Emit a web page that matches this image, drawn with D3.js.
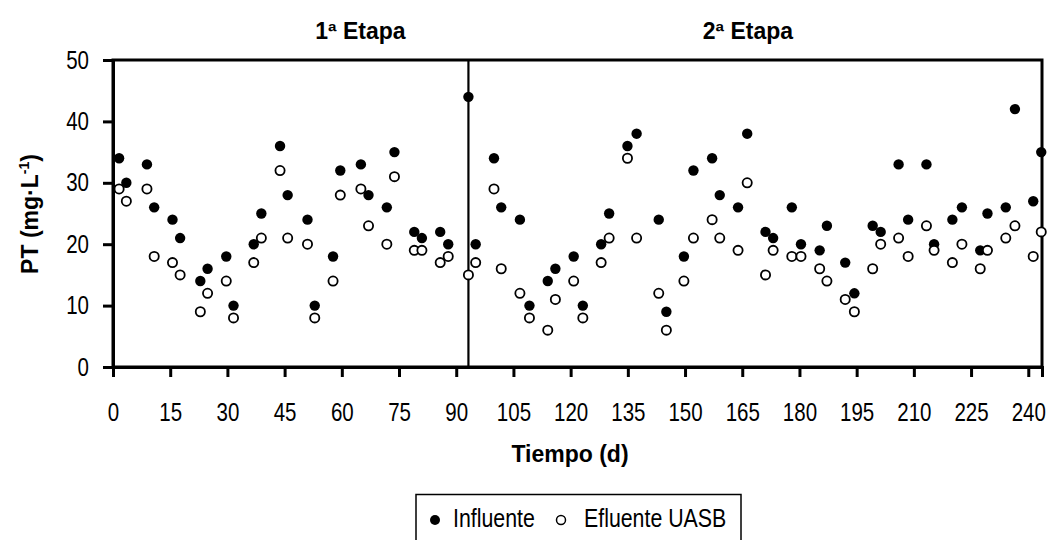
<!DOCTYPE html>
<html>
<head>
<meta charset="utf-8">
<script src="https://cdn.jsdelivr.net/npm/d3@7"></script>
<style>
  html, body { margin: 0; padding: 0; background: #fff; }
  svg { display: block; }
  .reg { font-family: "Liberation Sans", Arial, sans-serif; }
  .bold { font-family: "Liberation Sans", Arial, sans-serif; font-weight: bold; }
</style>
</head>
<body>
<svg id="chart" width="1053" height="540"></svg>
<script>
// ---- Data ----
const days = [1.6,3.5,8.9,10.8,15.6,17.6,22.9,24.8,29.7,31.6,36.9,38.9,43.8,45.8,
  51,52.9,57.7,59.6,65,67,71.8,73.8,79,81,85.8,87.9,93.2,95.1,
  99.9,101.8,106.7,109.2,114,116,120.8,123.2,128,130.1,134.9,137.3,143.1,145.1,
  149.7,152.2,157.1,159.1,163.9,166.3,171.1,173.1,178,180.4,185.3,187.2,192,194.4,
  199.2,201.3,206,208.5,213.3,215.3,220.1,222.6,227.4,229.3,234.1,236.5,241.3,243.4];
const influente = [34,30,33,26,24,21,14,16,18,10,20,25,36,28,
  24,10,18,32,33,28,26,35,22,21,22,20,44,20,
  34,26,24,10,14,16,18,10,20,25,36,38,24,9,
  18,32,34,28,26,38,22,21,26,20,19,23,17,12,
  23,22,33,24,33,20,24,26,19,25,26,42,27,35];
const efluente = [29,27,29,18,17,15,9,12,14,8,17,21,32,21,
  20,8,14,28,29,23,20,31,19,19,17,18,15,17,
  29,16,12,8,6,11,14,8,17,21,34,21,12,6,
  14,21,24,21,19,30,15,19,18,18,16,14,11,9,
  16,20,21,18,23,19,17,20,16,19,21,23,18,22];
const xTicks = [0,15,30,45,60,75,90,105,120,135,150,165,180,195,210,225,240];
const yTicks = [0,10,20,30,40,50];
const stageNames = ["1ª Etapa", "2ª Etapa"];
const stageBoundary = [93.2];
const seriesNames = ["Influente", "Efluente UASB"];

// ---- Layout ----
const mLeft = 113, mRight = 1042, mTop = 60, mBottom = 367;
const svg = d3.select("#chart");

const x = d3.scaleLinear().domain([0, 243.6]).range([mLeft, mRight]);
const y = d3.scaleLinear().domain([0, 50]).range([mBottom, mTop]);

// condense regular text to mimic a narrow face
function narrow(sel, f = 0.82) {
  sel.each(function () {
    const w = this.getComputedTextLength();
    d3.select(this).attr("textLength", w * f).attr("lengthAdjust", "spacingAndGlyphs");
  });
}

// frame
svg.append("rect")
  .attr("x", mLeft).attr("y", mTop)
  .attr("width", mRight - mLeft).attr("height", mBottom - mTop)
  .attr("fill", "none").attr("stroke", "#000").attr("stroke-width", 3);

// axes
const xAxis = d3.axisBottom(x).tickValues(xTicks).tickSize(10).tickPadding(26).tickFormat(d3.format("d"));
const gx = svg.append("g").attr("transform", `translate(0,${mBottom})`).call(xAxis);
const yAxis = d3.axisLeft(y).tickValues(yTicks).tickSize(10).tickPadding(14).tickFormat(d3.format("d"));
const gy = svg.append("g").attr("transform", `translate(${mLeft},0)`).call(yAxis);
[gx, gy].forEach(g => {
  g.attr("font-family", null).attr("font-size", null);
  g.select(".domain").attr("stroke-width", 3);
  g.selectAll(".tick line").attr("stroke-width", 3);
  g.selectAll(".tick text").attr("class", "reg").attr("font-size", 25).attr("fill", "#000");
  narrow(g.selectAll(".tick text"));
});

// stage divider
svg.selectAll("line.stage").data(stageBoundary).enter().append("line")
  .attr("class", "stage")
  .attr("x1", d => x(d)).attr("x2", d => x(d))
  .attr("y1", mTop).attr("y2", mBottom)
  .attr("stroke", "#000").attr("stroke-width", 2.2);

// points
svg.append("g").selectAll("circle").data(days).enter().append("circle")
  .attr("cx", (d) => x(d)).attr("cy", (d, i) => y(influente[i]))
  .attr("r", 5.2).attr("fill", "#000");
svg.append("g").selectAll("circle").data(days).enter().append("circle")
  .attr("cx", (d) => x(d)).attr("cy", (d, i) => y(efluente[i]))
  .attr("r", 4.6).attr("fill", "#fff").attr("stroke", "#000").attr("stroke-width", 1.8);

// stage titles
const stageCenters = [360.5, 748];
svg.selectAll("text.stagetitle").data(stageNames).enter().append("text")
  .attr("class", "bold").attr("font-size", 23)
  .attr("x", (d, i) => stageCenters[i]).attr("y", 38.5)
  .attr("text-anchor", "middle").text(d => d);

// x title
svg.append("text").attr("class", "bold").attr("font-size", 23)
  .attr("x", 570).attr("y", 461.5)
  .attr("text-anchor", "middle").text("Tiempo (d)");

// y title
const yt = svg.append("text").attr("class", "bold").attr("font-size", 23)
  .attr("transform", "translate(37.5,214) rotate(-90)")
  .attr("text-anchor", "middle");
yt.append("tspan").text("PT (mg·L");
yt.append("tspan").attr("font-size", 14).attr("dy", -9).text("-1");
yt.append("tspan").attr("dy", 9).text(")");

// legend
const lg = svg.append("g");
lg.append("rect").attr("x", 416).attr("y", 494.5).attr("width", 325).attr("height", 60)
  .attr("fill", "#fff").attr("stroke", "#000").attr("stroke-width", 1.5);
lg.append("circle").attr("cx", 435).attr("cy", 520).attr("r", 5).attr("fill", "#000");
const t1 = lg.append("text").attr("class", "reg").attr("font-size", 26).attr("x", 453).attr("y", 526.5).text(seriesNames[0]);
lg.append("circle").attr("cx", 561).attr("cy", 520).attr("r", 4.5).attr("fill", "#fff")
  .attr("stroke", "#000").attr("stroke-width", 1.5);
const t2 = lg.append("text").attr("class", "reg").attr("font-size", 26).attr("x", 584).attr("y", 526.5).text(seriesNames[1]);
narrow(t1); narrow(t2);
</script>
</body>
</html>
